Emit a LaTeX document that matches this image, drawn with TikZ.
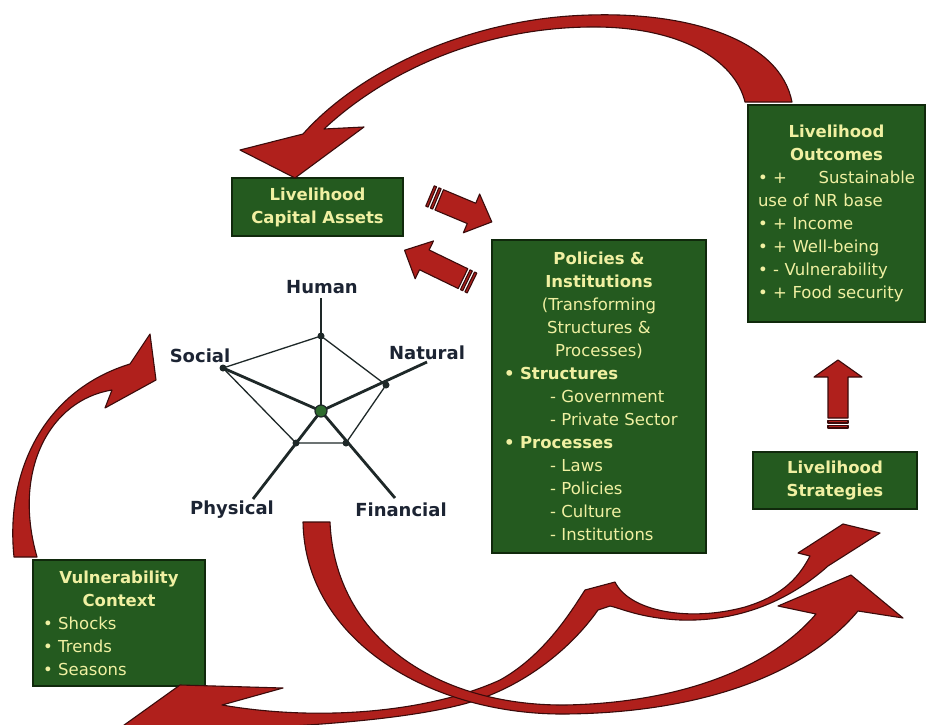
\documentclass[tikz,border=0pt]{standalone}
\usepackage{fontspec}
\setmainfont{DejaVu Sans}
\definecolor{boxgreen}{HTML}{245A1F}
\definecolor{boxline}{HTML}{10290C}
\definecolor{boxtext}{HTML}{F0F0A2}
\definecolor{arrowred}{HTML}{B0201C}
\definecolor{arrowline}{HTML}{3B0B0B}
\definecolor{webdark}{HTML}{1E2828}
\definecolor{lbltext}{HTML}{1C2433}
\definecolor{hubgreen}{HTML}{2E6B2E}
\newcommand\stripedblock[6]{% tail, angle, length, shaft half, head half, head length
  \begin{scope}[shift={#1},rotate=#2]
    \filldraw[redshape] (10,-#4) -- ({#3-#6},-#4) -- ({#3-#6},-#5) -- (#3,0) -- ({#3-#6},#5) -- ({#3-#6},#4) -- (10,#4) -- cycle;
    \filldraw[redshape] (0,-#4) rectangle (2.5,#4);
    \filldraw[redshape] (5,-#4) rectangle (7.5,#4);
  \end{scope}}
\begin{document}
\begin{tikzpicture}[x=1pt,y=-1pt,
  gbox/.style={draw=boxline, fill=boxgreen, line width=1.5pt, text=boxtext, inner sep=0pt,
               font=\fontsize{16.5}{23}\selectfont},
  redshape/.style={fill=arrowred, draw=arrowline, line width=1.1pt, line join=round},
  lbl/.style={text=lbltext, font=\fontsize{18}{20}\selectfont\bfseries, inner sep=0pt},
  thinweb/.style={draw=webdark, line width=1.3pt},
  thickweb/.style={draw=webdark, line width=2.8pt},
  webdot/.style={circle, fill=webdark, inner sep=0pt, minimum size=7pt}]
\useasboundingbox (0,0) rectangle (932,725);
\fill[white] (0,0) rectangle (932,725);

% ---------- boxes ----------
\node[gbox, minimum width=171, minimum height=58, align=center] (capital) at (317.5,207)
  {\textbf{Livelihood}\\\textbf{Capital Assets}};

\node[gbox, minimum width=177, minimum height=217, text width=157, align=center] (outcomes) at (836.5,213.5)
  {\textbf{Livelihood}\\\textbf{Outcomes}\\
   \makebox[\linewidth][l]{\textbullet\ +\hfill Sustainable}\\
   \makebox[\linewidth][l]{use of NR base}\\
   \makebox[\linewidth][l]{\textbullet\ + Income}\\
   \makebox[\linewidth][l]{\textbullet\ + Well-being}\\
   \makebox[\linewidth][l]{\textbullet\ - Vulnerability}\\
   \makebox[\linewidth][l]{\textbullet\ + Food security}};

\node[gbox, minimum width=214, minimum height=313, text width=190, align=center] (policies) at (599,396.5)
  {\textbf{Policies \&}\\\textbf{Institutions}\\(Transforming\\Structures \&\\Processes)\\
   \makebox[\linewidth][l]{\textbf{\textbullet\ Structures}}\\
   \makebox[\linewidth][l]{\hspace{46pt}- Government}\\
   \makebox[\linewidth][l]{\hspace{46pt}- Private Sector}\\
   \makebox[\linewidth][l]{\textbf{\textbullet\ Processes}}\\
   \makebox[\linewidth][l]{\hspace{46pt}- Laws}\\
   \makebox[\linewidth][l]{\hspace{46pt}- Policies}\\
   \makebox[\linewidth][l]{\hspace{46pt}- Culture}\\
   \makebox[\linewidth][l]{\hspace{46pt}- Institutions}};

\node[gbox, minimum width=164, minimum height=57, align=center] (strategies) at (835,480.5)
  {\textbf{Livelihood}\\\textbf{Strategies}};

\node[gbox, minimum width=172, minimum height=126, text width=152, align=center] (vulner) at (119,623)
  {\textbf{Vulnerability}\\\textbf{Context}\\
   \makebox[\linewidth][l]{\textbullet\ Shocks}\\
   \makebox[\linewidth][l]{\textbullet\ Trends}\\
   \makebox[\linewidth][l]{\textbullet\ Seasons}};

% ---------- asset pentagon ----------
\coordinate (hub) at (321,411);
\coordinate (hv) at (321,336);
\coordinate (nv) at (386,385);
\coordinate (fv) at (346,443);
\coordinate (pv) at (296,443);
\coordinate (sv) at (223,368);
\coordinate (ha) at (321,298);
\coordinate (na) at (427,362);
\coordinate (fa) at (395,498);
\coordinate (pa) at (253,499);
\draw[thinweb] (hv) -- (nv) -- (fv) -- (pv) -- (sv) -- cycle;
\draw[thickweb] (hub) -- (ha);
\draw[thickweb] (hub) -- (na);
\draw[thickweb] (hub) -- (fa);
\draw[thickweb] (hub) -- (pa);
\draw[thickweb] (hub) -- (sv);
\foreach \v in {hv,nv,fv,pv,sv} \node[webdot] at (\v) {};
\node[circle, fill=hubgreen, draw=webdark, line width=1.2pt, inner sep=0pt, minimum size=12pt] at (hub) {};

\node[lbl] (human) at (322,287) {Human};
\node[lbl] (social) at (200,356) {Social};
\node[lbl] (natural) at (427,353) {Natural};
\node[lbl] (physical) at (232,510) {Physical};
\node[lbl] (financial) at (401,510) {Financial};

% ---------- block arrows ----------
\stripedblock{(430,196)}{-22.75}{67}{11}{21}{22}
\stripedblock{(472,283)}{154.1}{75}{11}{21}{22}
\stripedblock{(838,428)}{90}{68}{10}{24}{17}

% ---------- curved arrows ----------
% top: outcomes -> capital assets
\filldraw[redshape] (792,102) .. controls (780,40) and (690,12) .. (590,15)
  .. controls (470,18) and (360,70) .. (303,134)
  -- (240,150) -- (295,178) -- (364,127) -- (324,129)
  .. controls (385,72) and (480,28) .. (590,27)
  .. controls (680,26) and (735,60) .. (745,102) -- cycle;

% left: vulnerability -> social
\filldraw[redshape] (14,557) .. controls (5,470) and (45,390) .. (130,364)
  -- (150,334) -- (156,380) -- (105,408) -- (112,390)
  .. controls (50,400) and (12,470) .. (37,557) -- cycle;

% S-shaped double arrow from policies
\filldraw[redshape] (120,728) -- (180,685) -- (283,688) -- (222,705)
  .. controls (320,722) and (430,712) .. (500,680)
  .. controls (545,655) and (572,610) .. (585,590)
  -- (615,582)
  .. controls (630,612) and (690,622) .. (745,607)
  .. controls (785,595) and (800,575) .. (810,556)
  -- (798,553) -- (843,524) -- (880,533) -- (828,566)
  .. controls (790,600) and (740,622) .. (680,620)
  .. controls (640,618) and (620,608) .. (610,606)
  -- (598,610)
  .. controls (570,650) and (520,690) .. (460,705)
  .. controls (380,725) and (250,728) .. (170,732) -- cycle;

% financial -> strategies
\filldraw[redshape] (303,522) .. controls (305,640) and (430,715) .. (565,714)
  .. controls (690,713) and (800,680) .. (858,611)
  -- (903,618) -- (851,575) -- (778,606) -- (816,614)
  .. controls (770,668) and (680,703) .. (565,705)
  .. controls (440,706) and (335,640) .. (330,522) -- cycle;
\end{tikzpicture}
\end{document}
